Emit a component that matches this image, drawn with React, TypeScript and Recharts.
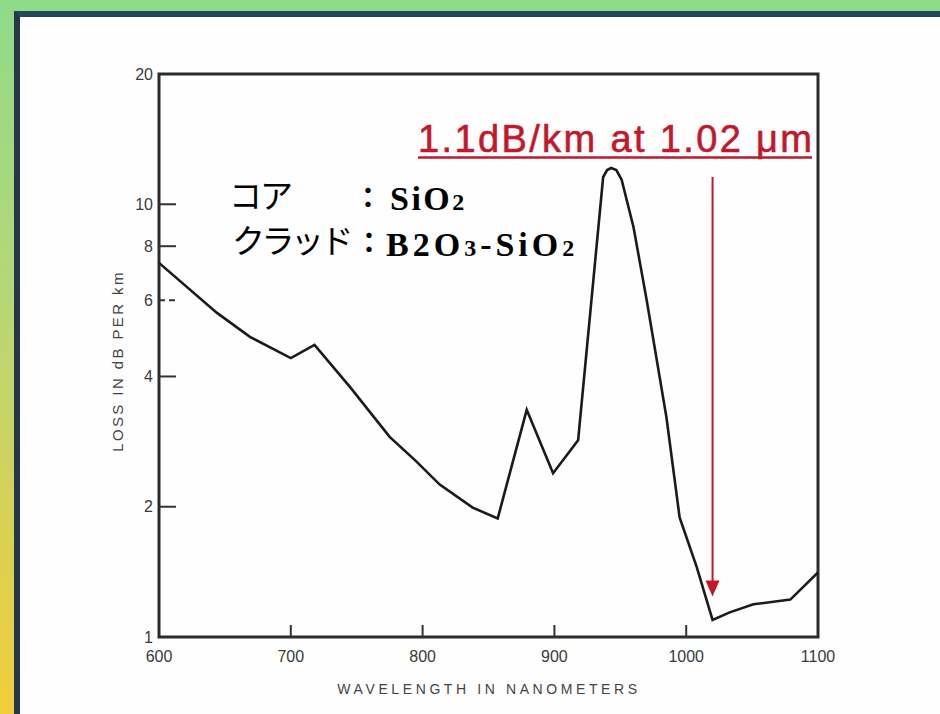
import React from 'react';
import { ComposedChart, Line, XAxis, YAxis, ReferenceArea, ReferenceLine } from 'recharts';

// ---- data ----
const wavelengthNm = [600, 644, 669, 700, 718, 745, 775, 795, 813, 838, 857, 879, 899, 918, 937, 940, 943, 947, 951, 960, 970, 985, 995, 1008, 1020, 1033, 1051, 1079, 1100];
const lossDbPerKm = [7.32, 5.61, 4.94, 4.41, 4.73, 3.78, 2.9, 2.55, 2.25, 1.99, 1.88, 3.35, 2.39, 2.85, 11.56, 12.0, 12.13, 12.0, 11.4, 8.86, 6.01, 3.22, 1.89, 1.45, 1.095, 1.14, 1.19, 1.22, 1.41];

const xTicks = [600, 700, 800, 900, 1000, 1100];
const yTicks = [1, 2, 4, 6, 8, 10, 20];
const yMarkedTicks = [2, 4, 6, 8, 10];
const yDashedTicks = [6];
const xMarkedTicks = [700, 800, 900, 1000];

const xTitle = 'WAVELENGTH IN NANOMETERS';
const yTitle = 'LOSS IN dB PER km';
const minLossLabel = '1.1dB/km at 1.02 μm';
const arrowWavelength = 1020;
const arrowTop = 11.56;
const arrowTip = 1.24;
const coreLabel = 'コア';
const cladLabel = 'クラッド';

const data = wavelengthNm.map((w, i) => ({ w, loss: lossDbPerKm[i] }));

const RED = '#c3172b';
const INK = '#1a1a1a';
const TICK_FONT = '"Liberation Sans", Arial, sans-serif';
const JP_FONT = '"Noto Sans CJK JP", sans-serif';
const SERIF = '"Liberation Serif", "Times New Roman", serif';

const YTick = (props: any) => {
  const { x, y, payload } = props;
  const v = payload.value;
  const axisX = x + 6;
  return (
    <g>
      {yMarkedTicks.includes(v) && (
        <line x1={axisX} x2={axisX + 17} y1={y} y2={y} stroke="#333" strokeWidth={2}
          strokeDasharray={yDashedTicks.includes(v) ? '6 4' : undefined} />
      )}
      <text x={x} y={y} dy="0.36em" textAnchor="end" fontSize={16} fill="#3a3a3a" fontFamily={TICK_FONT}>{v}</text>
    </g>
  );
};

const XTick = (props: any) => {
  const { x, y, payload } = props;
  const v = payload.value;
  const axisY = y - 14;
  return (
    <g>
      {xMarkedTicks.includes(v) && (
        <line x1={x} x2={x} y1={axisY} y2={axisY - 12} stroke="#333" strokeWidth={2} />
      )}
      <text x={x} y={y} dy="0.71em" textAnchor="middle" fontSize={16} fill="#3a3a3a" fontFamily={TICK_FONT}>{v}</text>
    </g>
  );
};

const Arrow = (p: any) => {
  const { x1, y1, x2, y2 } = p;
  const head = 16;
  return (
    <g>
      <line x1={x1} y1={y1} x2={x2} y2={y2 - head + 2} stroke={RED} strokeWidth={2} />
      <polygon points={`${x2 - 7},${y2 - head} ${x2 + 7},${y2 - head} ${x2},${y2}`} fill={RED} />
    </g>
  );
};

export default function App() {
  return (
    <div style={{ position: 'absolute', left: 0, top: 0, width: 940, height: 714, overflow: 'hidden',
      background: 'linear-gradient(to bottom, #8fdb88 0%, #b5d777 40%, #f3cd3a 100%)' }}>
      <div style={{ position: 'absolute', left: 0, top: 0, width: 940, height: 11, background: '#8edb87' }} />
      <div style={{ position: 'absolute', left: 14, top: 11, right: 0, bottom: 0, background: '#fefefe',
        borderLeft: '6px solid #25384a', borderTop: '6px solid #24465a' }} />
      <div style={{ position: 'absolute', left: 0, top: 0 }}>
        <ComposedChart width={940} height={714} data={data} margin={{ top: 74, right: 122, bottom: 37, left: 99 }}>
          <XAxis dataKey="w" type="number" domain={[600, 1100]} ticks={xTicks} interval={0}
            axisLine={false} tickLine={false} tickSize={0} tickMargin={14} tick={<XTick />} height={40} allowDataOverflow />
          <YAxis type="number" scale="log" domain={[1, 20]} ticks={yTicks} interval={0} allowDataOverflow
            axisLine={false} tickLine={false} tickSize={0} tickMargin={6} tick={<YTick />} width={60} />
          <ReferenceArea x1={600} x2={1100} y1={1} y2={20} fill="none" fillOpacity={0} stroke="#2b2b2b" strokeWidth={3} />
          <Line dataKey="loss" type="linear" stroke={INK} strokeWidth={2.6} dot={false} isAnimationActive={false} />
          <ReferenceLine segment={[{ x: arrowWavelength, y: arrowTop }, { x: arrowWavelength, y: arrowTip }]} shape={Arrow} />
        </ComposedChart>
      </div>
      <svg width={940} height={714} style={{ position: 'absolute', left: 0, top: 0, pointerEvents: 'none' }}>
        <text transform="translate(123,361) rotate(-90)" textAnchor="middle" fontSize={15} letterSpacing={2.4}
          fill="#444" fontFamily={TICK_FONT}>{yTitle}</text>
        <text x={489} y={694} textAnchor="middle" fontSize={14} letterSpacing={3.6} fill="#444" fontFamily={TICK_FONT}>{xTitle}</text>

        <text x={418} y={152} fontSize={38} fill={RED} stroke={RED} strokeWidth={0.6} fontFamily={TICK_FONT}
          textLength={394} lengthAdjust="spacing">{minLossLabel}</text>
        <line x1={418} x2={812} y1={157.5} y2={157.5} stroke={RED} strokeWidth={2.5} />

        <text x={229} y={208} fontSize={33} fill="#000" fontFamily={JP_FONT} letterSpacing={-2}>{coreLabel}</text>
        <text x={368} y={208} fontSize={28} fill="#000" textAnchor="middle" fontWeight="bold" fontFamily={JP_FONT}>：</text>
        <text x={390} y={210} fontSize={34} fill="#000" fontWeight="bold" fontFamily={SERIF} letterSpacing={2.5}>
          SiO<tspan fontSize={24}>2</tspan>
        </text>

        <text x={232} y={253} fontSize={33} fill="#000" fontFamily={JP_FONT} letterSpacing={-3.5}>{cladLabel}</text>
        <text x={369} y={253} fontSize={28} fill="#000" textAnchor="middle" fontWeight="bold" fontFamily={JP_FONT}>：</text>
        <text x={386} y={256} fontSize={34} fill="#000" fontWeight="bold" fontFamily={SERIF} letterSpacing={4}>
          B2O<tspan fontSize={24}>3</tspan>-SiO<tspan fontSize={24}>2</tspan>
        </text>
      </svg>
    </div>
  );
}
